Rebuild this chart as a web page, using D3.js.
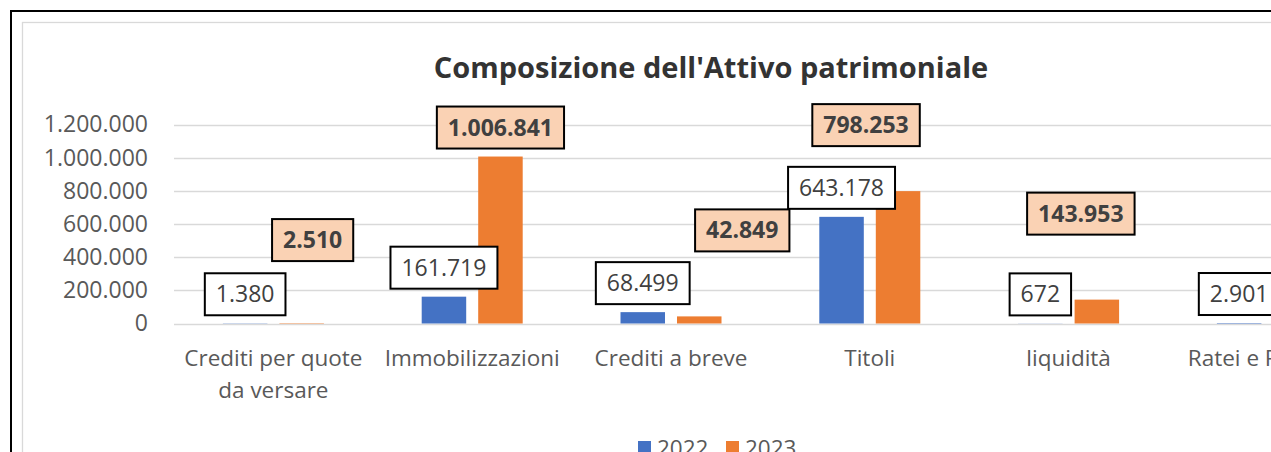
<!DOCTYPE html>
<html>
<head>
<meta charset="utf-8">
<script src="https://cdn.jsdelivr.net/npm/d3@7"></script>
<style>
  body { margin: 0; background: #fff; }
  svg { display: block; font-family: "Open Sans", sans-serif; }
</style>
</head>
<body>
<div id="chart"></div>
<script>
const categories = ["Crediti per quote da versare", "Immobilizzazioni", "Crediti a breve", "Titoli", "liquidità", "Ratei e Risconti"];
const series = ["2022", "2023"];
const values2022 = [1380, 161719, 68499, 643178, 672, 2901];
const values2023 = [2510, 1006841, 42849, 798253, 143953, 3500];
const yTicks = [0, 200000, 400000, 600000, 800000, 1000000, 1200000];

// manual nudges of the 2023 labels (dragged in the original)
const shift2023 = [[11, -54], [0, 0], [43, -57], [-32, -37], [-16, -57], [40, -57]];

const width = 1271, height = 452;
const colors = { "2022": "#4472C4", "2023": "#ED7D31" };
const font = "'Open Sans', sans-serif";

const svg = d3.select("#chart").append("svg")
  .attr("width", width)
  .attr("height", height)
  .style("background", "#fff");

// outer frame + chart area border
svg.append("rect")
  .attr("x", 11).attr("y", 11)
  .attr("width", 1500).attr("height", 600)
  .attr("fill", "none").attr("stroke", "#000").attr("stroke-width", 2);
svg.append("rect")
  .attr("x", 22.5).attr("y", 22.5)
  .attr("width", 1400).attr("height", 600)
  .attr("fill", "none").attr("stroke", "#d9d9d9").attr("stroke-width", 1.3);

const x0 = d3.scaleBand()
  .domain(categories)
  .range([174, 174 + 6 * 198.8]);

const x1 = d3.scaleBand()
  .domain(series)
  .range([x0.bandwidth() / 2 - 50.5, x0.bandwidth() / 2 + 50.5])
  .paddingInner(0.2124);

const y = d3.scaleLinear()
  .domain([0, 1200000])
  .range([323.5, 124.5]);

const fmt = d3.formatLocale({ decimal: ",", thousands: ".", grouping: [3], currency: ["", "€"] }).format(",d");

// gridlines
svg.append("g")
  .selectAll("line")
  .data(yTicks)
  .join("line")
  .attr("x1", 174).attr("x2", 1400)
  .attr("y1", d => Math.round(y(d)) + 0.5)
  .attr("y2", d => Math.round(y(d)) + 0.5)
  .attr("stroke", "#d9d9d9")
  .attr("stroke-width", 1.5);

// y axis labels
const yAxis = d3.axisLeft(y).tickValues(yTicks).tickFormat(fmt).tickSize(0).tickPadding(0);
svg.append("g")
  .attr("transform", "translate(148,0)")
  .call(yAxis)
  .call(g => g.select(".domain").remove())
  .call(g => g.selectAll("text")
    .attr("fill", "#595959")
    .style("font-size", "23px")
    .style("font-family", font));

// title
svg.append("text")
  .attr("x", 711).attr("y", 78)
  .attr("text-anchor", "middle")
  .attr("fill", "#333")
  .style("font-size", "29px")
  .style("font-weight", "bold")
  .text("Composizione dell'Attivo patrimoniale");

const rows = categories.map((c, i) => ({ cat: c, i, "2022": values2022[i], "2023": values2023[i] }));

// bars
const groups = svg.append("g")
  .selectAll("g")
  .data(rows)
  .join("g")
  .attr("transform", d => `translate(${x0(d.cat)},0)`);

groups.selectAll("rect")
  .data(d => series.map(s => ({ s, v: d[s], i: d.i })))
  .join("rect")
  .attr("x", d => x1(d.s))
  .attr("width", x1.bandwidth())
  .attr("y", d => y(d.v))
  .attr("height", d => y(0) - y(d.v))
  .attr("fill", d => colors[d.s]);

// data labels
groups.each(function(d) {
  const g = d3.select(this);
  series.forEach(s => {
    const v = d[s];
    const bold = s === "2023";
    const sh = bold ? shift2023[d.i] : [0, 0];
    const cx = x1(s) + x1.bandwidth() / 2 + sh[0];
    const bottom = y(v) - 8 + sh[1];
    const lab = g.append("g");
    const rect = lab.append("rect");
    const t = lab.append("text")
      .attr("x", cx)
      .attr("y", bottom - 21)
      .attr("dy", "0.35em")
      .attr("text-anchor", "middle")
      .attr("fill", "#404040")
      .style("font-size", "23px")
      .style("font-weight", bold ? "bold" : "normal")
      .text(fmt(v));
    const w = t.node().getComputedTextLength() + 22;
    rect.attr("x", cx - w / 2).attr("y", bottom - 42)
      .attr("width", w).attr("height", 42)
      .attr("fill", bold ? "#FAD2B4" : "#fff")
      .attr("stroke", "#000").attr("stroke-width", 2);
  });
});

// category labels with wrapping
svg.append("g")
  .selectAll("text")
  .data(categories)
  .join("text")
  .attr("x", d => x0(d) + x0.bandwidth() / 2)
  .attr("y", 366)
  .attr("text-anchor", "middle")
  .attr("fill", "#595959")
  .style("font-size", "22.5px")
  .each(function(d) {
    const el = d3.select(this);
    const words = d.split(" ");
    let line = [];
    let tspan = el.append("tspan").attr("x", el.attr("x")).attr("dy", 0);
    words.forEach(w => {
      line.push(w);
      tspan.text(line.join(" "));
      if (tspan.node().getComputedTextLength() > 192 && line.length > 1) {
        line.pop();
        tspan.text(line.join(" "));
        line = [w];
        tspan = el.append("tspan").attr("x", el.attr("x")).attr("dy", 32).text(w);
      }
    });
  });

// legend
const legend = svg.append("g").attr("transform", "translate(638,441)");
series.forEach((s, i) => {
  const lg = legend.append("g").attr("transform", `translate(${i * 88},0)`);
  lg.append("rect").attr("width", 13).attr("height", 13).attr("fill", colors[s]);
  lg.append("text")
    .attr("x", 19).attr("y", 7)
    .attr("dy", "0.35em")
    .attr("fill", "#595959")
    .style("font-size", "22.5px")
    .text(s);
});
</script>
</body>
</html>
